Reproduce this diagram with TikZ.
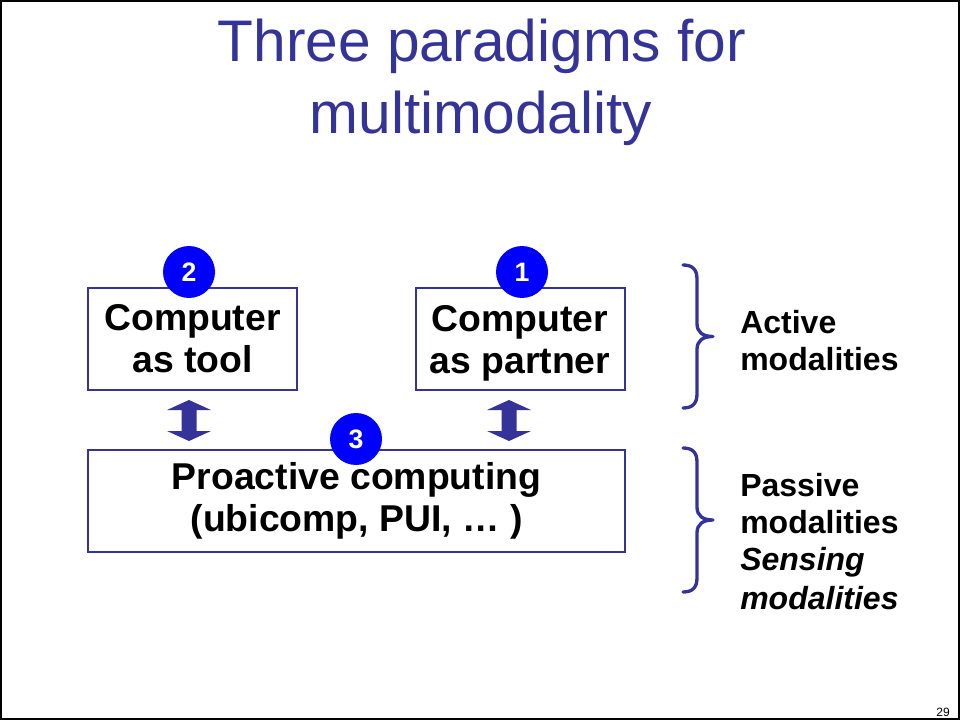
\documentclass[tikz,border=0pt]{standalone}
\usepackage{fontspec}
\setmainfont{Liberation Sans}
\definecolor{slateblue}{RGB}{51,51,153}
\definecolor{badgeblue}{RGB}{0,0,255}
\newcommand{\nodepth}[1]{\raisebox{0pt}[\height][0pt]{#1}}
\begin{document}
\begin{tikzpicture}[x=0.75pt,y=-0.75pt,
  titletext/.style={anchor=base, text=slateblue, font=\fontsize{44}{50}\selectfont, inner sep=0pt},
  box/.style={draw=slateblue, line width=1.5pt, fill=white, align=center, inner sep=0pt,
    minimum height=76.5pt, font=\fontsize{28}{31.5}\selectfont\bfseries},
  badge/.style={circle, fill=badgeblue, text=white, minimum size=39pt, inner sep=0pt,
    font=\fontsize{20}{24}\selectfont\bfseries},
  sidetext/.style={anchor=base west, inner sep=0pt, font=\fontsize{24}{28}\selectfont\bfseries},
  bracecurve/.style={draw=slateblue, line width=2.5pt, line cap=round, line join=round},
  updown/.style={fill=slateblue, draw=none}]

\useasboundingbox (0,0) rectangle (960,720);
\draw[line width=1.5pt] (1,1) rectangle (958.5,718.5);

% heading
\node[titletext] (t1) at (482,62) {Three paradigms for};
\node[titletext] (t2) at (481,134) {multimodality};

% the three paradigm boxes
\node[box, minimum width=156.75pt] (tool) at (192.5,339) {Computer\\as tool};
\node[box, minimum width=156.75pt] (partner) at (520,339) {Computer\\\nodepth{as partner}};
\node[box, minimum width=402.75pt] (proactive) at (356.5,501) {Proactive computing\\(ubicomp, PUI, \dots\ )};

% numbered badges
\node[badge] (n2) at (189,272) {2};
\node[badge] (n1) at (522,272) {1};
\node[badge] (n3) at (356,439) {3};

% two-headed links between the upper boxes and the lower one
\coordinate (a1) at (189,420.5);
\coordinate (a2) at (509,420.5);
\foreach \c in {a1,a2}{
  \fill[updown] ([shift={(0,-20.5)}]\c) -- ([shift={(22,-10.5)}]\c) -- ([shift={(7.5,-10.5)}]\c)
    -- ([shift={(7.5,10.5)}]\c) -- ([shift={(22,10.5)}]\c) -- ([shift={(0,20.5)}]\c)
    -- ([shift={(-22,10.5)}]\c) -- ([shift={(-7.5,10.5)}]\c) -- ([shift={(-7.5,-10.5)}]\c)
    -- ([shift={(-22,-10.5)}]\c) -- cycle;
}

% right-hand braces: top end, tip, bottom end
\foreach \t/\m/\b in {265/336.5/408, 448/520/592}{
  \draw[bracecurve] (683,\t) .. controls (692,\t) and (697,\t+4) .. (697,\t+14)
    -- (697,\m-13) .. controls (697,\m-4) and (703,\m) .. (713,\m)
    .. controls (703,\m) and (697,\m+4) .. (697,\m+13)
    -- (697,\b-14) .. controls (697,\b-4) and (692,\b) .. (683,\b);
}

% modality labels
\node[sidetext] (act1) at (740,333) {Active};
\node[sidetext] (act2) at (740,370) {modalities};
\node[sidetext] (pas1) at (740,496) {Passive};
\node[sidetext] (pas2) at (740,533) {modalities};
\node[sidetext, font=\fontsize{24}{28}\selectfont\bfseries\itshape] (sen1) at (740,570) {Sensing};
\node[sidetext, font=\fontsize{24}{28}\selectfont\bfseries\itshape] (sen2) at (740,609) {modalities};

% slide number
\node[anchor=base east, inner sep=0pt, font=\fontsize{9}{10}\selectfont] (pg) at (950,716) {29};
\end{tikzpicture}
\end{document}
